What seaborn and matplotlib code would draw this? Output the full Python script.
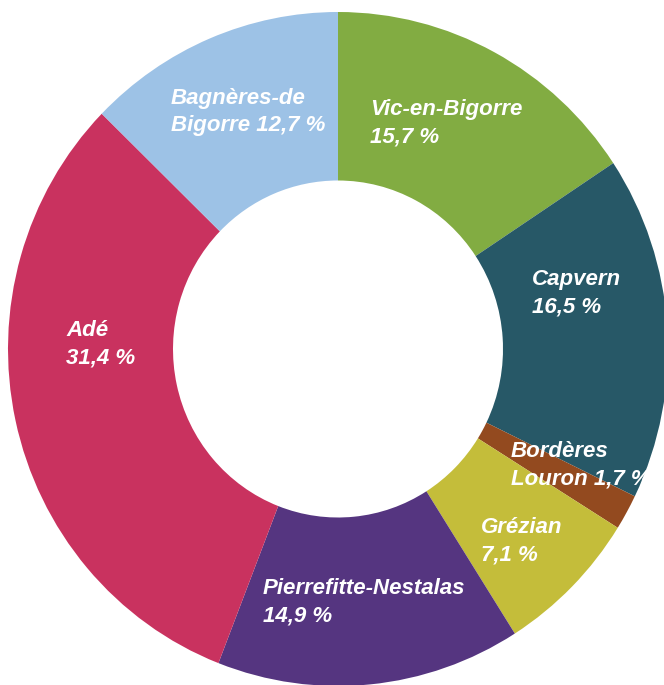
import seaborn as sns
import matplotlib.pyplot as plt

# data, clockwise from 12 o'clock
communes = ["Vic-en-Bigorre", "Capvern", "Bordères\nLouron", "Grézian",
            "Pierrefitte-Nestalas", "Adé", "Bagnères-de\nBigorre"]
parts = [15.7, 16.5, 1.7, 7.1, 14.9, 31.4, 12.7]
colors = ["#82ac42", "#275867", "#934a1f", "#c4bd3a",
          "#553580", "#c9325f", "#9dc2e6"]

# label anchors in pixels (left edge, vertical middle of the two lines)
label_px = [(370, 123), (532, 293), (511, 465), (481, 541),
            (263, 602), (66, 344), (171, 112)]
# how each label is laid out: name and value on one line or two
joins = ["\n", "\n", " ", "\n", "\n", "\n", " "]

sns.set_theme(style="white")
plt.rcParams["font.family"] = ["Liberation Sans Narrow", "Liberation Sans", "DejaVu Sans"]

W, H = 664, 685
fig = plt.figure(figsize=(W / 100, H / 100), dpi=100)
ax = fig.add_axes([0, 0, 1, 1])

pal = sns.color_palette(colors)
ax.pie(parts, colors=pal, startangle=90, counterclock=False,
       radius=1.0, wedgeprops=dict(width=0.5, linewidth=0))

# pie centre at (338, 349) px, radius 330 px wide and 337 px tall
cx, cy, rx, ry = 338, 349, 330, 337
ax.set_aspect("auto")
ax.set_xlim(-cx / rx, (W - cx) / rx)
ax.set_ylim(-(H - cy) / ry, cy / ry)
ax.axis("off")

for name, val, j, (px, py) in zip(communes, parts, joins, label_px):
    txt = name + j + f"{val:.1f} %".replace(".", ",")
    ax.text(px / W, 1 - py / H, txt, transform=ax.transAxes,
            ha="left", va="center", color="white", fontsize=16,
            fontweight="bold", fontstyle="italic", linespacing=1.4)

fig.savefig("out.png", dpi=100, facecolor="white")
